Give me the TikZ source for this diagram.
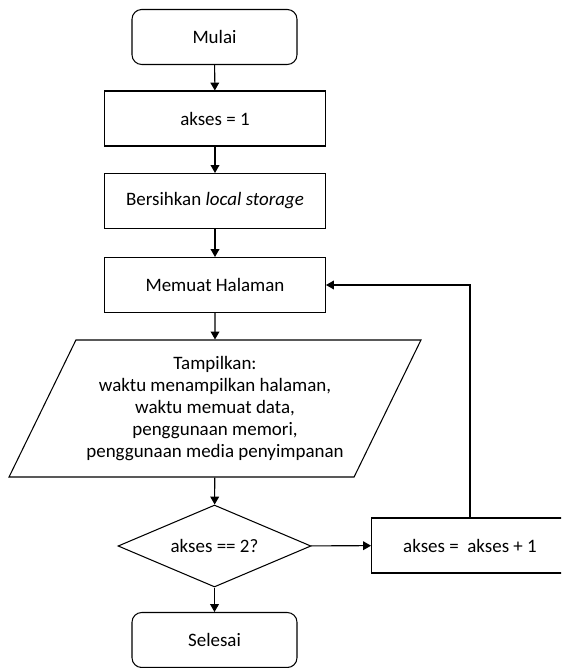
\documentclass[tikz,border=0pt]{standalone}
\usepackage{fontspec}
\setmainfont{Carlito}
\usetikzlibrary{arrows.meta,shapes.geometric}

\begin{document}
\begin{tikzpicture}[x=0.02cm, y=-0.02cm, line width=0.6pt,
	every node/.style={font=\fontsize{10.8}{12.5}\selectfont, draw, align=center, inner sep=2pt},
	>={Triangle[length=4.5pt, width=5pt]},
	terminal/.style={rounded corners=5.5pt, minimum width=3.3cm, minimum height=1.1cm},
	process/.style={minimum width=4.42cm, minimum height=1.1cm},
	io/.style={trapezium, trapezium left angle=59, trapezium right angle=121, trapezium stretches body, minimum width=8.24cm, minimum height=2.74cm},
	decision/.style={diamond, aspect=2.35, inner sep=0pt, minimum width=3.86cm, minimum height=1.64cm}]
	\clip (0,0) rectangle (561,668);
	\node[terminal] (mulai) at (214.5,37) {Mulai};
	\node[process] (akses) at (215,118.5) {akses = 1};
	\node[process] (bersih) at (215,201) {Bersihkan \textit{local storage}};
	\node[process] (muat) at (215,285) {Memuat Halaman};
	\node[io] (tampil) at (215,408.5) {Tampilkan:\\ waktu menampilkan halaman,\\ waktu memuat data,\\ penggunaan memori,\\ penggunaan media penyimpanan};
	\node[decision] (cek) at (214.5,546) {akses == 2?};
	\node[process, minimum width=3.94cm] (tambah) at (470,545.5) {akses = ~akses + 1};
	\node[terminal] (selesai) at (214.5,640) {Selesai};
	\draw[->] (mulai) -- (akses);
	\draw[->] (akses) -- (bersih);
	\draw[->] (bersih) -- (muat);
	\draw[->] (muat) -- (tampil);
	\draw[->] (tampil) -- (cek);
	\draw[->] (cek) -- (selesai);
	\draw[->] (cek) -- (tambah);
	\draw[->] (tambah.north) |- (muat.east);
\end{tikzpicture}
\end{document}
